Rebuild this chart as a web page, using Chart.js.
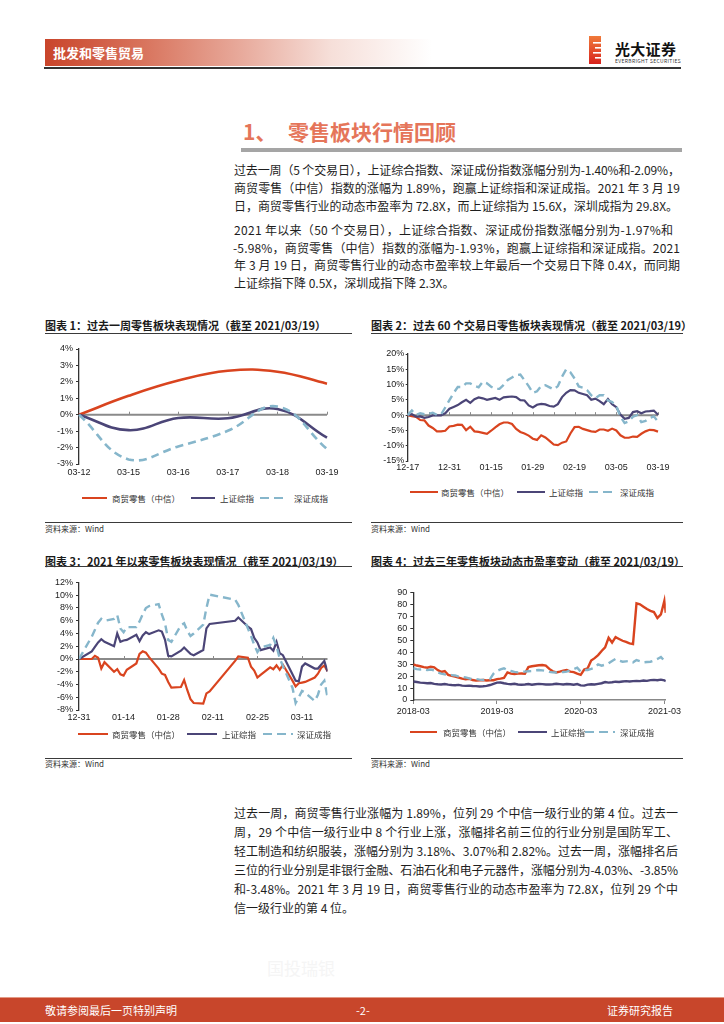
<!DOCTYPE html>
<html lang="zh-CN">
<head>
<meta charset="utf-8">
<title>零售板块行情回顾</title>
<script src="https://cdn.jsdelivr.net/npm/chart.js@4/dist/chart.umd.min.js"></script>
<style>
html,body{margin:0;padding:0;background:#fff;}
body{width:724px;height:1024px;position:relative;overflow:hidden;font-family:"Noto Sans CJK SC","Noto Sans",sans-serif;color:#1e1e1e;}
.a{position:absolute;white-space:nowrap;}
.hdr{left:45px;top:39px;width:440px;height:27px;background:linear-gradient(to right,#c9452b 0%,#d8735c 22%,#e8ab9d 45%,#f6dfd9 65%,rgba(255,255,255,0) 88%);}
.hdr span{position:absolute;left:8px;top:5px;font-size:13px;font-weight:700;color:#fff;line-height:17px;}
.ln{font-size:12px;line-height:16px;color:#1e1e1e;left:234px;}
.ct{font-size:11px;font-weight:700;line-height:14px;color:#1a1a1a;}
.rule{height:1px;background:#3a3a3a;}
.src{font-size:8px;line-height:10px;color:#333;}
.lg{font-size:8.5px;line-height:11px;color:#333;}
canvas{position:absolute;}
</style>
</head>
<body>
<!-- header -->
<div class="a hdr"><span>批发和零售贸易</span></div>
<svg class="a" style="left:588px;top:36px" width="14" height="29" viewBox="0 0 14 29">
  <defs><linearGradient id="lg1" x1="0" y1="0" x2="0" y2="1"><stop offset="0" stop-color="#f07a3a"/><stop offset="1" stop-color="#d8221c"/></linearGradient></defs>
  <rect x="1" y="0" width="12" height="28" fill="url(#lg1)"/>
  <rect x="5" y="6" width="8" height="1.6" fill="#fff"/>
  <rect x="7" y="11" width="6" height="1.6" fill="#fff"/>
  <rect x="5" y="16" width="8" height="1.6" fill="#fff"/>
  <rect x="7" y="21" width="6" height="1.6" fill="#fff"/>
</svg>
<div class="a" style="left:615px;top:40px;font-size:15px;font-weight:700;line-height:18px;color:#111;letter-spacing:0.3px">光大证券</div>
<div class="a" style="left:615px;top:58px;font-size:5px;line-height:6px;color:#333;letter-spacing:0.35px">EVERBRIGHT SECURITIES</div>
<div class="a" style="left:44px;top:67px;width:637px;height:2px;background:#333"></div>

<!-- section title -->
<div class="a" style="left:243px;top:118px;font-size:21px;font-weight:700;line-height:26px;color:#e5755a">1、</div>
<div class="a" style="left:288px;top:118px;font-size:21px;font-weight:700;line-height:26px;color:#e5755a">零售板块行情回顾</div>
<div class="a" style="left:241px;top:148px;width:441px;height:4px;background:#a5a5a5"></div>

<!-- paragraphs -->
<div class="a ln fit" data-w="446" style="top:161.5px"><span>过去一周（5 个交易日），上证综合指数、深证成份指数涨幅分别为-1.40%和-2.09%，</span></div>
<div class="a ln fit" data-w="446" style="top:179.5px"><span>商贸零售（中信）指数的涨幅为 1.89%，跑赢上证综指和深证成指。2021 年 3 月 19</span></div>
<div class="a ln fit" data-w="444" style="top:197.5px"><span>日，商贸零售行业的动态市盈率为 72.8X，而上证综指为 15.6X，深圳成指为 29.8X。</span></div>
<div class="a ln fit" data-w="439" style="top:221.5px"><span>2021 年以来（50 个交易日），上证综合指数、深证成份指数涨幅分别为-1.97%和</span></div>
<div class="a ln fit" data-w="447" style="top:239.5px;left:233px"><span>-5.98%，商贸零售（中信）指数的涨幅为-1.93%，跑赢上证综指和深证成指。2021</span></div>
<div class="a ln fit" data-w="446" style="top:257px"><span>年 3 月 19 日，商贸零售行业的动态市盈率较上年最后一个交易日下降 0.4X，而同期</span></div>
<div class="a ln" style="top:275px"><span>上证综指下降 0.5X，深圳成指下降 2.3X。</span></div>

<!-- chart titles & rules -->
<div class="a ct" style="left:45px;top:318px">图表 1：过去一周零售板块表现情况（截至 2021/03/19）</div>
<div class="a rule" style="left:45px;top:332.5px;width:307px"></div>
<div class="a ct" style="left:371px;top:318px">图表 2：过去 60 个交易日零售板块表现情况（截至 2021/03/19）</div>
<div class="a rule" style="left:371px;top:332.5px;width:312px"></div>
<div class="a rule" style="left:45px;top:521.5px;width:307px"></div>
<div class="a src" style="left:45px;top:523.5px">资料来源：Wind</div>
<div class="a rule" style="left:371px;top:521.5px;width:312px"></div>
<div class="a src" style="left:371px;top:523.5px">资料来源：Wind</div>

<div class="a ct" style="left:45px;top:553.5px">图表 3：2021 年以来零售板块表现情况（截至 2021/03/19）</div>
<div class="a rule" style="left:45px;top:566px;width:307px"></div>
<div class="a ct" style="left:371px;top:553.5px">图表 4：过去三年零售板块动态市盈率变动（截至 2021/03/19）</div>
<div class="a rule" style="left:371px;top:566px;width:312px"></div>
<div class="a rule" style="left:45px;top:758px;width:307px"></div>
<div class="a src" style="left:45px;top:759px">资料来源：Wind</div>
<div class="a rule" style="left:371px;top:758px;width:312px"></div>
<div class="a src" style="left:371px;top:759px">资料来源：Wind</div>

<canvas id="c1" width="307" height="145" style="left:45px;top:338px"></canvas>
<canvas id="c2" width="312" height="145" style="left:371px;top:338px"></canvas>
<canvas id="c3" width="307" height="155" style="left:45px;top:572px"></canvas>
<canvas id="c4" width="312" height="140" style="left:371px;top:582px"></canvas>

<!-- bottom paragraph -->
<div class="a ln fit" data-w="444" style="top:805px"><span>过去一周，商贸零售行业涨幅为 1.89%，位列 29 个中信一级行业的第 4 位。过去一</span></div>
<div class="a ln fit" data-w="444" style="top:824px"><span>周，29 个中信一级行业中 8 个行业上涨，涨幅排名前三位的行业分别是国防军工、</span></div>
<div class="a ln fit" data-w="444" style="top:843px"><span>轻工制造和纺织服装，涨幅分别为 3.18%、3.07%和 2.82%。过去一周，涨幅排名后</span></div>
<div class="a ln fit" data-w="444" style="top:862px"><span>三位的行业分别是非银行金融、石油石化和电子元器件，涨幅分别为-4.03%、-3.85%</span></div>
<div class="a ln fit" data-w="444" style="top:881px"><span>和-3.48%。2021 年 3 月 19 日，商贸零售行业的动态市盈率为 72.8X，位列 29 个中</span></div>
<div class="a ln" style="top:900px"><span>信一级行业的第 4 位。</span></div>

<!-- footer -->
<div class="a" style="left:267px;top:957px;font-size:17px;line-height:22px;color:#f5f5f5">国投瑞银</div>
<div class="a" style="left:0;top:997px;width:724px;height:1px;background:#e39a86"></div>
<div class="a" style="left:0;top:998px;width:724px;height:24px;background:#c8462b"></div>
<div class="a" style="left:45px;top:998px;font-size:11px;line-height:24px;color:#fff">敬请参阅最后一页特别声明</div>
<div class="a" style="left:356px;top:998px;font-size:11px;line-height:24px;color:#fff">-2-</div>
<div class="a" style="left:607px;top:998px;font-size:11px;line-height:24px;color:#fff">证券研究报告</div>

<script>
// ---------------- DATA ----------------
// Chart 1: past week (cumulative %)
const weekLabels = ['03-12','03-15','03-16','03-17','03-18','03-19'];
const weekRetail = [0, 1.15, 2.08, 2.68, 2.62, 1.89];
const weekSSE    = [0, -0.94, -0.20, -0.22, 0.35, -1.40];
const weekSZSE   = [0, -2.72, -1.93, -0.98, 0.50, -2.09];

// Chart 2: past 60 trading days (cumulative %)
const d60Labels = ['12-17','12-18','12-21','12-22','12-23','12-24','12-25','12-28','12-29','12-30','12-31',
  '01-04','01-05','01-06','01-07','01-08','01-11','01-12','01-13','01-14','01-15',
  '01-18','01-19','01-20','01-21','01-22','01-25','01-26','01-27','01-28','01-29',
  '02-01','02-02','02-03','02-04','02-05','02-08','02-09','02-10','02-18','02-19',
  '02-22','02-23','02-24','02-25','02-26','03-01','03-02','03-03','03-04','03-05',
  '03-08','03-09','03-10','03-11','03-12','03-15','03-16','03-17','03-18','03-19'];
const d60Retail = [0,-0.3,-0.6,-1.6,-1.7,-3.4,-4.2,-5.3,-5.3,-5.1,
  -3.7,-3.5,-3.1,-3.2,-4.9,-3.8,-5.3,-5.5,-5.8,-6.1,
  -5.1,-4.0,-3.0,-2.4,-2.4,-2.9,-4.5,-5.5,-6.0,-6.7,
  -7.7,-8.1,-6.6,-7.3,-8.4,-9.6,-9.8,-9.0,-8.6,-6.0,
  -3.9,-3.8,-4.5,-4.9,-5.3,-5.5,-4.7,-4.7,-5.1,-4.4,
  -5.0,-6.6,-7.4,-7.4,-7.0,-7.1,-6.1,-5.3,-4.8,-4.9,-5.4];
const d60SSE = [0,0.3,-0.5,-0.4,-0.9,-0.6,-0.1,-0.1,-0.1,0.6,
  2.1,2.7,3.3,4.2,5.0,4.0,5.2,5.8,5.5,5.0,
  5.3,5.6,5.0,5.8,6.0,6.1,5.9,4.9,4.8,3.2,
  2.5,3.4,3.7,3.5,3.0,2.8,3.6,5.9,7.3,8.2,
  8.1,7.3,6.9,6.5,5.0,5.4,4.6,3.6,5.3,3.6,
  2.6,0.2,-1.2,-0.9,1.0,1.3,0.6,1.2,1.3,1.5,0.1];
const d60SZSE = [0,1.5,0.1,0.6,0.3,0.4,0.8,0.1,0.2,2.5,
  4.9,7.2,9.2,9.2,10.4,10.4,9.6,9.1,10.9,10.4,
  9.3,8.6,8.6,9.9,11.5,12.3,13.1,13.3,11.4,9.5,
  7.3,7.8,9.5,9.8,9.1,8.4,9.5,12.6,15.0,14.0,
  12.0,9.4,9.0,8.2,6.5,5.6,6.5,6.5,4.8,4.3,
  3.0,-0.5,-2.6,-2.0,-0.5,0.0,-2.3,-1.9,-0.9,-0.4,-2.1];

// Chart 3: year to date (date axis, cumulative %)
const ytdDates = d60Labels.slice(10);
const ytdTickLabels = ['12-31','01-14','01-28','02-11','02-25','03-11'];
const ytdRetail = [0, 0.0,0.5,0.2,-1.5,-0.5, -2.0,-1.6,-2.4,-2.6,-1.7, -0.7,0.8,1.2,1.0,0.3,
  -1.5,-2.3,-2.5,-3.6,-4.5, -4.4,-3.3,-4.9,-6.3,-6.9, -7.0,-5.4,-5.1, -0.3,0.4,
  0.2,-1.2,-1.8,-2.9,-2.5, -1.3,-1.6,-1.0,-1.7,-0.9, -3.4,-4.3,-3.8,-3.7,-3.6, -2.9,-2.3,-1.4,-1.0,-1.93];
const ytdSSE = [0, 1.2,1.9,2.6,3.1,2.7, 2.0,4.0,2.7,2.9,3.0, 3.8,2.8,3.7,4.2,3.9,
  4.5,4.3,3.0,0.5,0.4, 1.3,1.8,1.3,0.8,0.6, 1.4,4.8,5.5, 6.0,6.5,
  5.1,4.7,3.3,2.6,1.4, 1.8,1.3,2.7,0.9,0.6, -2.4,-3.4,-3.5,-1.2,-0.7, -1.5,-1.5,-0.9,-0.3,-1.97];
const ytdSZSE = [0, 3.5,4.6,5.7,6.3,6.0, 6.3,6.9,4.8,4.2,5.0, 5.0,5.9,7.0,8.0,8.3,
  8.6,7.0,5.6,3.0,2.7, 5.3,5.6,4.4,3.6,4.0, 5.4,8.0,10.1, 9.3,8.5,
  4.8,3.6,2.2,1.1,1.8, 2.2,3.3,2.0,0.1,-1.1, -4.5,-6.9,-6.0,-5.0,-5.3, -6.6,-5.6,-4.0,-3.4,-5.98];

// Chart 4: 3-year dynamic PE (half-month samples from 2018-03, last point 2021-03-19)
const peTickLabels = ['2018-03','2019-03','2020-03','2021-03'];
const peRetail = [29.8,28.8,28.2,27.5,27.0,27.8,27.3,25.0,23.5,24.2,
  21.0,20.2,19.5,18.7,17.8,17.3,17.8,16.7,16.2,16.5,
  16.7,16.3,16.5,16.5,17.5,17.9,18.5,23.1,22.0,21.7,
  22.0,22.2,22.0,27.5,28.2,28.6,29.0,29.2,28.7,26.0,
  24.0,23.0,23.7,24.5,25.0,23.7,23.3,22.0,21.0,25.5,
  26.5,33.0,35.0,37.5,41.0,44.0,52.0,48.0,52.5,51.0,
  49.5,48.5,47.3,46.8,80.8,80.0,78.0,76.0,74.5,73.5,
  68.5,71.5,83.0,72.8];
const peSSE = [15.5,15.0,14.5,14.3,14.0,14.2,13.5,13.2,13.0,13.3,
  12.8,12.5,12.3,12.6,12.0,11.8,12.0,11.7,11.6,11.3,
  11.5,11.8,12.5,13.5,14.5,14.6,14.0,13.5,13.2,13.6,
  13.0,12.8,13.0,13.3,12.8,13.2,13.5,13.3,12.9,13.0,
  13.2,13.6,13.3,13.0,13.4,13.2,12.8,13.3,12.2,12.0,
  12.8,13.2,13.0,13.5,14.0,15.0,14.5,14.8,15.3,15.0,
  15.5,15.8,15.5,15.8,16.0,15.8,16.3,16.0,16.6,16.8,
  16.5,17.0,16.4,15.6];
const peSZSE = [26.5,25.8,25.5,25.8,25.0,25.5,24.8,23.1,22.0,21.4,
  21.0,20.8,20.5,19.5,19.2,18.9,18.0,17.3,17.5,17.0,
  16.7,17.2,17.5,22.0,24.2,25.5,26.5,25.0,24.2,23.5,
  23.1,23.5,23.7,24.0,24.2,24.8,25.1,24.8,24.2,23.5,
  23.1,23.0,23.1,23.4,23.7,24.8,25.9,27.0,23.7,25.1,
  25.1,26.0,27.0,29.8,28.7,29.5,30.6,32.6,34.3,33.0,
  32.0,32.3,32.6,31.5,33.4,32.5,31.5,31.8,32.0,33.0,
  34.3,36.0,32.6,32.2];

const seriesNames = ['商贸零售（中信）','上证综指','深证成指'];

// ---------------- STYLE ----------------
const RED = '#d9441f', PURPLE = '#4b4577', BLUE = '#86b6cb';

// fit paragraph lines to their measured width in the reference
document.querySelectorAll('.fit').forEach(el => {
  const sp = el.firstElementChild;
  const nat = sp.getBoundingClientRect().width;
  const n = [...sp.textContent].length;
  sp.style.letterSpacing = ((+el.dataset.w - nat) / (n - 1)) + 'px';
});

Chart.defaults.font.family = '"Liberation Sans", Arial, "Noto Sans CJK SC", sans-serif';
Chart.defaults.font.size = 9;
Chart.defaults.color = '#222';
Chart.defaults.animation = false;
Chart.defaults.responsive = false;
Chart.defaults.devicePixelRatio = 1;
Chart.defaults.plugins.legend.display = false;
Chart.defaults.plugins.tooltip.enabled = false;
Chart.defaults.elements.point.radius = 0;

// grey zero line with small ticks (the category axis of the original sits at 0)
const zeroAxis = {
  id: 'zeroAxis',
  beforeDatasetsDraw(chart, args, o) {
    if (!o || !o.ticks) return;
    const {ctx, scales: {x, y}} = chart;
    const y0 = y.getPixelForValue(0);
    ctx.save();
    ctx.strokeStyle = o.color; ctx.lineWidth = o.width;
    ctx.beginPath(); ctx.moveTo(x.left, y0); ctx.lineTo(x.right, y0); ctx.stroke();
    ctx.lineWidth = 1; ctx.beginPath();
    o.ticks.forEach(v => {
      const px = Math.round(x.getPixelForValue(v)) + 0.5;
      ctx.moveTo(px, y0); ctx.lineTo(px, y0 - o.len);
    });
    ctx.stroke(); ctx.restore();
  }
};
Chart.register(zeroAxis);

function ds(data, color, dashed, order, w, tension) {
  return {data, borderColor: color, backgroundColor: color, borderWidth: w,
    borderDash: dashed ? [8, 5] : [], pointRadius: 0, fill: false, order, tension: tension || 0};
}
function yAxis(min, max, step, width, tl, pad, fmt) {
  return {min, max,
    ticks: {stepSize: step, padding: pad, callback: fmt, color: '#222', autoSkip: false},
    grid: {drawOnChartArea: false, drawTicks: true, tickLength: tl, color: '#333', lineWidth: 1},
    border: {display: true, color: '#333', width: 1.3},
    afterFit(s) { s.width = width; }};
}
const pct = v => v + '%';

// Chart 1
new Chart(document.getElementById('c1'), {
  type: 'line',
  data: {labels: weekLabels, datasets: [
    ds(weekRetail, RED, false, 2, 2.6, 0.42),
    ds(weekSSE, PURPLE, false, 1, 2.6, 0.42),
    ds(weekSZSE, BLUE, true, 0, 2.6, 0.42)]},
  options: {
    layout: {padding: {top: 11, right: 25, left: 0, bottom: 0}},
    scales: {
      x: {type: 'category', grid: {display: false, drawTicks: false}, border: {display: false},
        ticks: {autoSkip: false, maxRotation: 0, padding: 3, color: '#222'},
        afterFit(s) { s.height = 19; }},
      y: yAxis(-3, 4, 1, 34, 3, 3, pct)
    },
    plugins: {zeroAxis: {ticks: [1, 2, 3, 4, 5], len: 3, color: '#8a8a8a', width: 2}}
  }
});

// Chart 2
new Chart(document.getElementById('c2'), {
  type: 'line',
  data: {labels: d60Labels, datasets: [
    ds(d60Retail, RED, false, 2, 2.2),
    ds(d60SSE, PURPLE, false, 1, 2.2),
    ds(d60SZSE, BLUE, true, 0, 2.4)]},
  options: {
    layout: {padding: {top: 16, right: 25, left: 0, bottom: 0}},
    scales: {
      x: {type: 'category', grid: {display: false, drawTicks: false}, border: {display: false},
        ticks: {autoSkip: false, maxRotation: 0, padding: 1, color: '#222',
          callback(v, i) { return i % 10 === 0 ? this.getLabelForValue(v) : null; }},
        afterFit(s) { s.height = 22; }},
      y: yAxis(-15, 20, 5, 36.7, 2, 1.5, pct)
    },
    plugins: {zeroAxis: {ticks: [5,10,15,20,25,30,35,40,45,50,55,60], len: 3, color: '#8a8a8a', width: 2}}
  }
});

// Chart 3 (date axis: days since 12-31)
function dayOf(s) {
  const [m, d] = s.split('-').map(Number);
  if (m === 12) return d - 31;
  return Math.round((Date.UTC(2021, m - 1, d) - Date.UTC(2020, 11, 31)) / 864e5);
}
const ytdX = ytdDates.map(dayOf);
const pts = (xs, ys) => ys.map((v, i) => ({x: xs[i], y: v}));
new Chart(document.getElementById('c3'), {
  type: 'line',
  data: {datasets: [
    ds(pts(ytdX, ytdRetail), RED, false, 2, 2.2),
    ds(pts(ytdX, ytdSSE), PURPLE, false, 1, 2.2),
    ds(pts(ytdX, ytdSZSE), BLUE, true, 0, 2.4)]},
  options: {
    layout: {padding: {top: 10.5, right: 24.5, left: 0, bottom: 0}},
    scales: {
      x: {type: 'linear', min: 0, max: ytdX[ytdX.length - 1],
        grid: {display: false, drawTicks: false}, border: {display: false},
        ticks: {stepSize: 14, includeBounds: false, autoSkip: false, maxRotation: 0, padding: 2, color: '#222',
          callback: v => ytdTickLabels[v / 14]},
        afterFit(s) { s.height = 17; }},
      y: yAxis(-8, 12, 2, 34, 3, 3, pct)
    },
    plugins: {zeroAxis: {ticks: [14, 28, 42, 56, 70], len: 3, color: '#8a8a8a', width: 2}}
  }
});

// Chart 4 (months since 2018-03)
const peX = peRetail.map((_, i) => i < 73 ? i / 2 : 36.2);
new Chart(document.getElementById('c4'), {
  type: 'line',
  data: {datasets: [
    ds(pts(peX, peRetail), RED, false, 2, 2.4),
    ds(pts(peX, peSSE), PURPLE, false, 1, 2.4),
    ds(pts(peX, peSZSE), BLUE, true, 0, 2.4)]},
  options: {
    layout: {padding: {top: 10.3, right: 16.3, left: 0, bottom: 0}},
    scales: {
      x: {type: 'linear', min: 0, max: 36.2,
        grid: {drawOnChartArea: false, drawTicks: true, tickLength: 4, color: '#888'},
        border: {display: true, color: '#888', width: 1.5},
        ticks: {stepSize: 12, includeBounds: false, autoSkip: false, maxRotation: 0, padding: 2, color: '#222',
          callback: v => peTickLabels[v / 12]},
        afterFit(s) { s.height = 22; }},
      y: yAxis(0, 90, 10, 42.3, 3, 3, v => v)
    }
  }
});

// HTML legends
function legend(y, items) {
  items.forEach((it, k) => {
    const c = [RED, PURPLE, BLUE][k];
    const l = document.createElement('div');
    l.className = 'a';
    l.style.cssText = 'left:' + it[0] + 'px;top:' + (y - 1.25) + 'px;width:' + (it[1] - it[0]) + 'px;height:2.5px;background:' +
      (k === 2 ? 'repeating-linear-gradient(to right,' + c + ' 0 9px,transparent 9px 14px)' : c);
    document.body.appendChild(l);
    const t = document.createElement('div');
    t.className = 'a lg';
    t.textContent = seriesNames[k];
    t.style.left = it[2] + 'px';
    t.style.top = (y - 5.5) + 'px';
    document.body.appendChild(t);
  });
}
legend(498, [[82, 107, 112], [191, 215, 220], [260, 288, 294]]);
legend(492, [[410, 438, 441], [517, 545, 549], [589, 615, 620]]);
legend(734, [[78, 108, 112], [187, 217, 222], [263, 293, 297]]);
legend(732, [[410, 437, 443], [518, 547, 551], [585, 615, 620]]);
</script>
</body>
</html>
